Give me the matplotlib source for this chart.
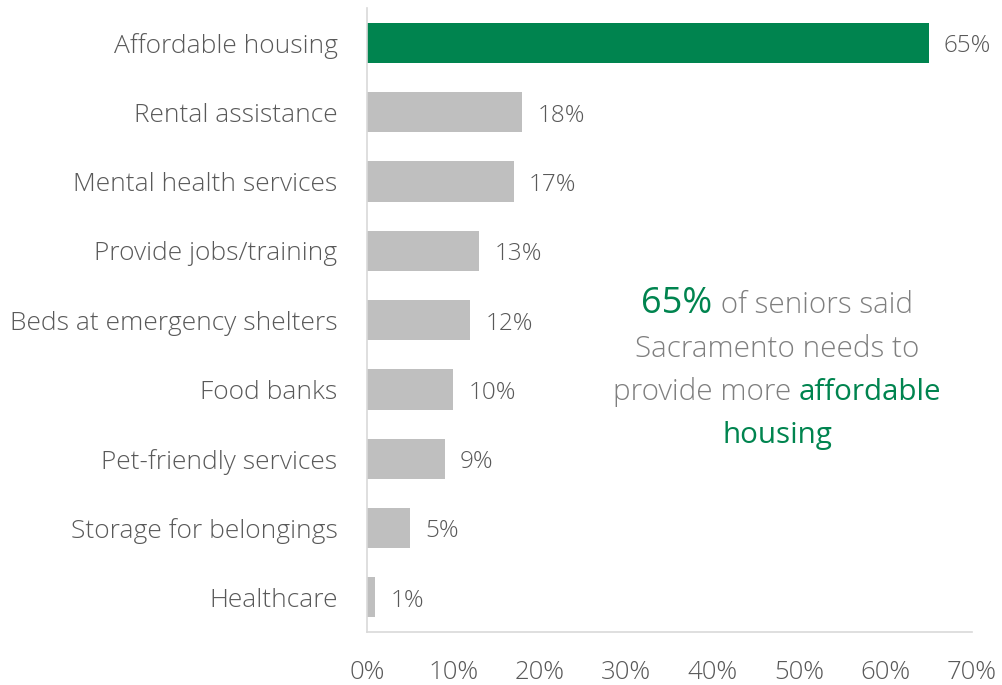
import matplotlib
matplotlib.use("Agg")
import matplotlib.pyplot as plt
import numpy as np

categories = ["Affordable housing", "Rental assistance", "Mental health services",
              "Provide jobs/training", "Beds at emergency shelters", "Food banks",
              "Pet-friendly services", "Storage for belongings", "Healthcare"]
values = [65, 18, 17, 13, 12, 10, 9, 5, 1]
xticks = [0, 10, 20, 30, 40, 50, 60, 70]

GREEN = "#00844F"
GRAY_BAR = "#BFBFBF"
TEXT = "#595959"
NOTE = "#7F7F7F"

plt.rcParams["font.family"] = ["Open Sans", "DejaVu Sans"]
plt.rcParams["font.weight"] = 300

fig = plt.figure(figsize=(10.02, 6.85), dpi=100)
ax = fig.add_axes([0.366, 0.0774, 0.604, 0.9106])

y = np.arange(len(categories))
colors = [GREEN if i == 0 else GRAY_BAR for i in range(len(categories))]
ax.barh(y, values, height=0.58, color=colors)
for i, v in enumerate(values):
    ax.annotate(f"{v}%", (v, i), xytext=(11, -2.5), textcoords="offset points",
                va="center", ha="left", fontsize=17.5, color=TEXT)

ax.set_ylim(len(categories) - 0.5, -0.5)
ax.set_xlim(0, 70)
ax.set_yticks(y)
ax.set_yticklabels(categories, fontsize=19, color=TEXT)
ax.set_xticks(xticks)
ax.set_xticklabels([f"{t}%" for t in xticks], fontsize=18.5, color=TEXT)
ax.tick_params(axis="y", length=0, pad=21)
ax.tick_params(axis="x", length=0, pad=20)

for s in ("top", "right"):
    ax.spines[s].set_visible(False)
for s in ("left", "bottom"):
    ax.spines[s].set_color("#D9D9D9")
    ax.spines[s].set_linewidth(1.2)

# annotation with mixed colours, each line centred
lines = [
    [("65%", GREEN, 26, 400), (" of seniors said", NOTE, 21.3, 300)],
    [("Sacramento needs to", NOTE, 21.3, 300)],
    [("provide more ", NOTE, 21.3, 300), ("affordable", GREEN, 21.3, 400)],
    [("housing", GREEN, 21.3, 400)],
]
baselines = [313, 357, 400, 443]
cx = 777
r = fig.canvas.get_renderer()
for parts, by in zip(lines, baselines):
    texts = []
    for s, c, fs, fw in parts:
        t = fig.text(0, 0, s, color=c, fontsize=fs, fontweight=fw,
                     va="baseline", ha="left")
        texts.append(t)
    widths = [t.get_window_extent(renderer=r).width for t in texts]
    total = sum(widths)
    x0 = cx - total / 2
    for t, w in zip(texts, widths):
        t.set_position((x0 / 1002, 1 - by / 685))
        x0 += w

plt.savefig("out.png", dpi=100)
plt.close()
